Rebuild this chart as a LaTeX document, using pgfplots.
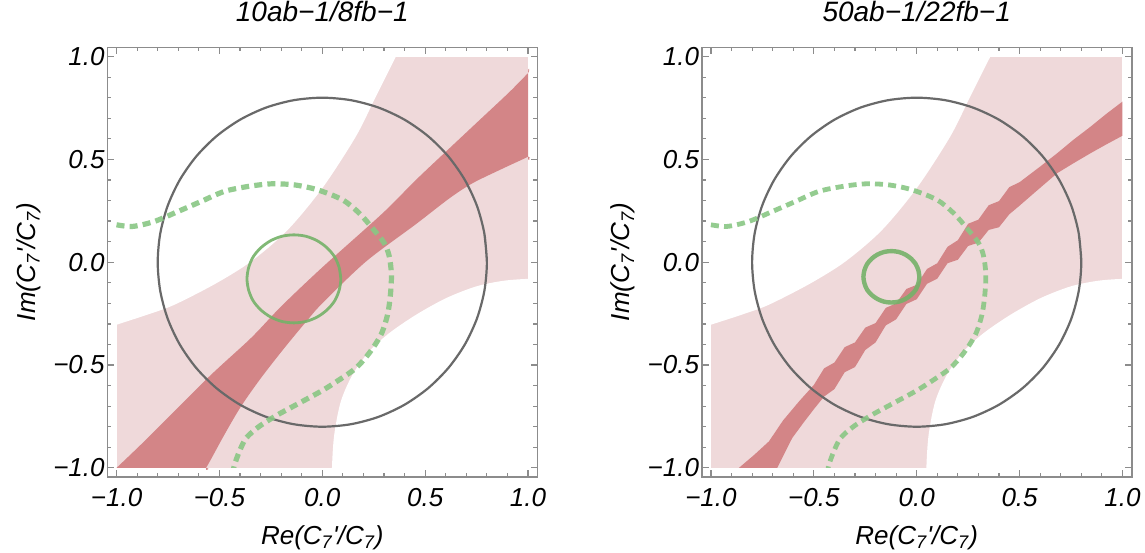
\documentclass[border=0pt]{standalone}
\usepackage{fontspec}
\setmainfont{Liberation Sans}
\usepackage{pgfplots}
\pgfplotsset{compat=1.18}

\definecolor{pinkfill}{RGB}{239,217,218}
\definecolor{bandred}{RGB}{211,133,135}
\definecolor{circgray}{RGB}{105,105,105}
\definecolor{dashgreen}{RGB}{137,199,132}
\definecolor{ringgreen}{RGB}{116,178,104}
\definecolor{framegray}{RGB}{140,140,140}

\newcommand{\lbl}{\fontsize{13}{15.6}\selectfont\itshape}
\newcommand{\ttl}{\fontsize{14}{16.8}\selectfont\itshape}

\pgfplotsset{panel/.style={
  width=215pt, height=214.7pt, scale only axis,
  xmin=-1.045, xmax=1.045, ymin=-1.043, ymax=1.045,
  axis on top,
  xtick={-1,-0.5,0,0.5,1}, ytick={-1,-0.5,0,0.5,1},
  xticklabels={−1.0,−0.5,0.0,0.5,1.0},
  yticklabels={−1.0,−0.5,0.0,0.5,1.0},
  minor tick num=4,
  tick align=inside, tick pos=both,
  xticklabel pos=lower, yticklabel pos=left,
  major tick length=3.4pt, minor tick length=2pt,
  tick style={color=framegray, line width=0.6pt},
  axis line style={framegray, line width=0.8pt},
  ticklabel style={font=\lbl},
  xticklabel style={yshift=-2.4pt},
  yticklabel style={xshift=2.2pt},
  xlabel style={font=\lbl, at={(axis description cs:0.5,-0.157)}, anchor=base},
  ylabel style={font=\lbl, at={(axis description cs:-0.167,0.5)}, anchor=base},
  title style={font=\ttl, at={(axis description cs:0.5,1)}, anchor=base, yshift=7pt},
  xlabel={Re(C\textsubscript{7}\textquotesingle/C\textsubscript{7})},
  ylabel={Im(C\textsubscript{7}\textquotesingle/C\textsubscript{7})},
}}

% allowed region (same in both panels): the square minus two excluded lobes
\newcommand{\pinkregion}{%
\addplot[fill=pinkfill, draw=none] coordinates {(-1,-1) (1,-1) (1,1) (-1,1)} -- cycle;
\addplot[smooth, fill=white, draw=none] coordinates {
  (-1.2,1.1) (-1.2,-0.37) (-1,-0.304) (-0.85,-0.255) (-0.719,-0.207) (-0.52,-0.105)
  (-0.347,0.003) (-0.17,0.155) (0,0.36) (0.163,0.611) (0.26,0.805) (0.358,1)
  (0.41,1.1)
} -- cycle;
\addplot[smooth, fill=white, draw=none] coordinates {
  (0.045,-1.2) (0.047,-1) (0.058,-0.839) (0.090,-0.677) (0.147,-0.547)
  (0.228,-0.434) (0.325,-0.345) (0.455,-0.256) (0.601,-0.175) (0.747,-0.118)
  (0.876,-0.091) (1,-0.081) (1.2,-0.077) (1.2,-1.2)
} -- cycle;}

\newcommand{\graycircle}{%
\addplot[smooth, draw=circgray, line width=1.1pt] coordinates {
  (0.8,0) (0.7878,0.1389) (0.7518,0.2736) (0.6928,0.4) (0.6128,0.5142)
  (0.5142,0.6128) (0.4,0.6928) (0.2736,0.7518) (0.1389,0.7878) (0,0.8)
  (-0.1389,0.7878) (-0.2736,0.7518) (-0.4,0.6928) (-0.5142,0.6128) (-0.6128,0.5142)
  (-0.6928,0.4) (-0.7518,0.2736) (-0.7878,0.1389) (-0.8,0) (-0.7878,-0.1389)
  (-0.7518,-0.2736) (-0.6928,-0.4) (-0.6128,-0.5142) (-0.5142,-0.6128) (-0.4,-0.6928)
  (-0.2736,-0.7518) (-0.1389,-0.7878) (0,-0.8) (0.1389,-0.7878) (0.2736,-0.7518)
  (0.4,-0.6928) (0.5142,-0.6128) (0.6128,-0.5142) (0.6928,-0.4) (0.7518,-0.2736)
  (0.7878,-0.1389) (0.8,0) (0.7878,0.1389)
};}

\newcommand{\dashcurve}[1]{%
\addplot[smooth, draw=dashgreen, line width=#1, dash pattern=on 4pt off 2.6pt, opacity=0.9] coordinates {
  (-1,0.182) (-0.922,0.174) (-0.817,0.198) (-0.703,0.246) (-0.590,0.295)
  (-0.477,0.344) (-0.363,0.368) (-0.250,0.381) (-0.136,0.376) (-0.023,0.352)
  (0.099,0.303) (0.180,0.238) (0.244,0.165) (0.301,0.093) (0.325,0.03)
  (0.336,-0.06) (0.331,-0.159) (0.317,-0.256) (0.285,-0.353) (0.228,-0.442)
  (0.163,-0.515) (0.082,-0.572) (0,-0.624) (-0.112,-0.685) (-0.217,-0.742)
  (-0.306,-0.798) (-0.370,-0.855) (-0.403,-0.920) (-0.427,-0.985) (-0.430,-1.0)
};}

\begin{document}
\begin{tikzpicture}
\begin{axis}[panel, title={10ab−1/8fb−1}]
\pinkregion
\addplot[smooth, fill=bandred, draw=none] coordinates {
  (-1,-1) (-0.58,-1) (-0.565,-1) (-0.476,-0.839) (-0.395,-0.701) (-0.298,-0.563)
  (-0.185,-0.418) (-0.071,-0.28) (0,-0.2) (0.212,0.003) (0.455,0.185) (0.617,0.31)
  (0.73,0.384) (0.876,0.455) (1,0.513) (1,0.52) (1,0.912) (1,0.919)
  (0.908,0.826) (0.763,0.69) (0.617,0.553) (0.455,0.40) (0.293,0.238) (0,-0.025)
  (-0.2,-0.215) (-0.347,-0.369) (-0.557,-0.563) (-0.849,-0.855) (-1,-1)
} -- cycle;
\graycircle
\dashcurve{2.6pt}
\addplot[smooth, draw=ringgreen, line width=1.4pt, opacity=0.9] coordinates {
  (0.090,-0.081) (0.082,-0.026) (0.060,0.026) (0.023,0.070) (-0.024,0.104)
  (-0.079,0.126) (-0.138,0.133) (-0.197,0.126) (-0.252,0.104) (-0.299,0.070)
  (-0.336,0.026) (-0.358,-0.026) (-0.366,-0.081) (-0.358,-0.136) (-0.336,-0.188)
  (-0.299,-0.232) (-0.252,-0.266) (-0.197,-0.288) (-0.138,-0.295) (-0.079,-0.288)
  (-0.024,-0.266) (0.023,-0.232) (0.060,-0.188) (0.082,-0.136) (0.090,-0.081)
  (0.082,-0.026)
};
\end{axis}

\begin{axis}[panel, at={(297.2pt,0pt)}, title={50ab−1/22fb−1}]
\pinkregion
% jagged narrow band
\addplot[fill=bandred, draw=none] coordinates {
  (-0.864,-1) (-0.678,-1) (-0.605,-0.855) (-0.55,-0.78)
  (-0.50,-0.715) (-0.45,-0.653) (-0.40,-0.617) (-0.35,-0.535) (-0.30,-0.510)
  (-0.25,-0.427) (-0.20,-0.390) (-0.15,-0.307) (-0.10,-0.278) (-0.05,-0.203)
  (0.00,-0.180) (0.05,-0.105) (0.10,-0.080) (0.15,-0.005) (0.20,0.012)
  (0.25,0.079) (0.30,0.095) (0.35,0.157) (0.40,0.170) (0.45,0.233) (0.50,0.275)
  (0.569,0.335) (0.683,0.433) (0.76,0.48) (0.845,0.53) (0.92,0.572) (1,0.615)
  (1,0.781) (0.92,0.72) (0.845,0.659) (0.76,0.594) (0.683,0.530) (0.60,0.465)
  (0.50,0.389) (0.45,0.365) (0.40,0.297) (0.35,0.277) (0.30,0.207) (0.25,0.187)
  (0.20,0.107) (0.15,0.075) (0.10,-0.005) (0.05,-0.033) (0.00,-0.110)
  (-0.05,-0.130) (-0.10,-0.200) (-0.15,-0.222) (-0.20,-0.296) (-0.25,-0.318)
  (-0.30,-0.390) (-0.35,-0.413) (-0.40,-0.488) (-0.45,-0.516) (-0.50,-0.597)
  (-0.572,-0.677) (-0.65,-0.77) (-0.718,-0.871) (-0.79,-0.937) (-0.864,-1)
} -- cycle;
\graycircle
\dashcurve{2.4pt}
\addplot[smooth, draw=ringgreen, line width=2.2pt, opacity=0.9] coordinates {
  (0.013,-0.071) (0.008,-0.039) (-0.005,-0.009) (-0.027,0.017) (-0.055,0.037)
  (-0.088,0.050) (-0.123,0.054) (-0.158,0.050) (-0.191,0.037) (-0.219,0.017)
  (-0.241,-0.009) (-0.254,-0.039) (-0.259,-0.071) (-0.254,-0.103) (-0.241,-0.134)
  (-0.219,-0.159) (-0.191,-0.179) (-0.158,-0.192) (-0.123,-0.196) (-0.088,-0.192)
  (-0.055,-0.179) (-0.027,-0.159) (-0.005,-0.134) (0.008,-0.103) (0.013,-0.071)
  (0.008,-0.039)
};
\end{axis}
\pgfresetboundingbox
\path[use as bounding box] (-53.65pt,-37.65pt) rectangle (518.85pt,238.35pt);
\end{tikzpicture}
\end{document}
